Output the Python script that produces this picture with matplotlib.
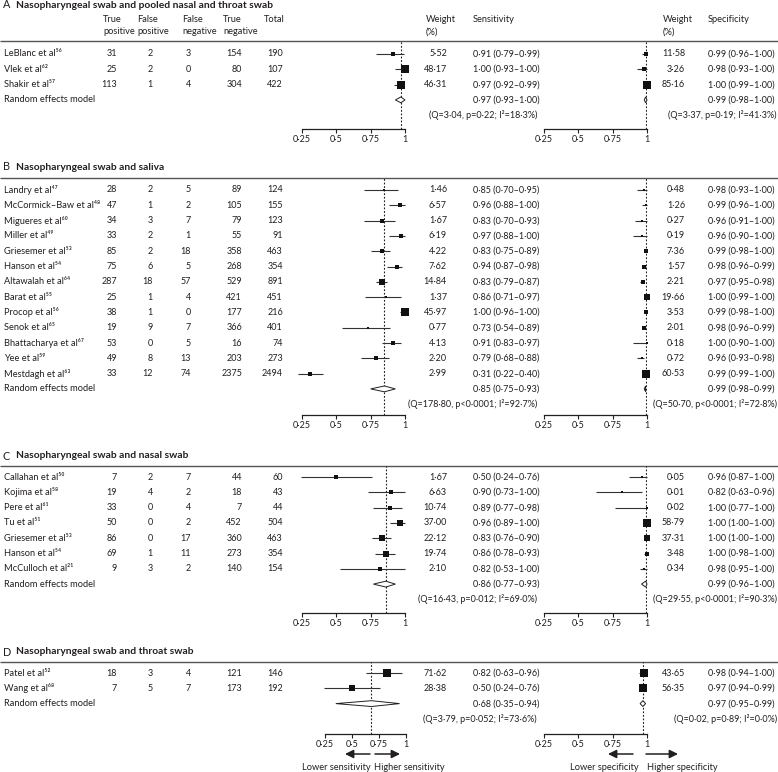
import matplotlib
matplotlib.use("Agg")
import matplotlib.pyplot as plt

plt.rcParams["font.family"] = ["Lato", "DejaVu Sans"]

W, H = 778, 772
ROW = 15.3
INK = "#231f20"
FS = 6.5       # numbers
FS_LAB = 6.7   # words

# ── data ────────────────────────────────────────────────────────────────
names_a = ["LeBlanc et al⁵⁶", "Vlek et al⁶²", "Shakir et al⁵⁷"]
tp_a = [31, 25, 113]
fp_a = [2, 2, 1]
fn_a = [3, 0, 4]
tn_a = [154, 80, 304]
tot_a = [190, 107, 422]
sw_a = [5.52, 48.17, 46.31]
sens_a = [0.91, 1.00, 0.97]
slo_a = [0.79, 0.93, 0.92]
shi_a = [0.99, 1.00, 0.99]
cw_a = [11.58, 3.26, 85.16]
spec_a = [0.99, 0.98, 1.00]
clo_a = [0.96, 0.93, 0.99]
chi_a = [1.00, 1.00, 1.00]
pool_sens_a = [0.97, 0.93, 1.00]
pool_spec_a = [0.99, 0.98, 1.00]
het_sens_a = ["3·04", "=0·22", "18·3"]
het_spec_a = ["3·37", "=0·19", "41·3"]

names_b = ["Landry et al⁴⁷", "McCormick–Baw et al⁴⁸", "Migueres et al⁶⁰", "Miller et al⁴⁹",
           "Griesemer et al⁵³", "Hanson et al⁵⁴", "Altawalah et al⁶⁴", "Barat et al⁵⁵",
           "Procop et al⁵⁶", "Senok et al⁶⁵", "Bhattacharya et al⁶⁷", "Yee et al⁵⁹",
           "Mestdagh et al⁶³"]
tp_b = [28, 47, 34, 33, 85, 75, 287, 25, 38, 19, 53, 49, 33]
fp_b = [2, 1, 3, 2, 2, 6, 18, 1, 1, 9, 0, 8, 12]
fn_b = [5, 2, 7, 1, 18, 5, 57, 4, 0, 7, 5, 13, 74]
tn_b = [89, 105, 79, 55, 358, 268, 529, 421, 177, 366, 16, 203, 2375]
tot_b = [124, 155, 123, 91, 463, 354, 891, 451, 216, 401, 74, 273, 2494]
sw_b = [1.46, 6.57, 1.67, 6.19, 4.22, 7.62, 14.84, 1.37, 45.97, 0.77, 4.13, 2.20, 2.99]
sens_b = [0.85, 0.96, 0.83, 0.97, 0.83, 0.94, 0.83, 0.86, 1.00, 0.73, 0.91, 0.79, 0.31]
slo_b = [0.70, 0.88, 0.70, 0.88, 0.75, 0.87, 0.79, 0.71, 0.96, 0.54, 0.83, 0.68, 0.22]
shi_b = [0.95, 1.00, 0.93, 1.00, 0.89, 0.98, 0.87, 0.97, 1.00, 0.89, 0.97, 0.88, 0.40]
cw_b = [0.48, 1.26, 0.27, 0.19, 7.36, 1.57, 2.21, 19.66, 3.53, 2.01, 0.18, 0.72, 60.53]
spec_b = [0.98, 0.99, 0.96, 0.96, 0.99, 0.98, 0.97, 1.00, 0.99, 0.98, 1.00, 0.96, 0.99]
clo_b = [0.93, 0.96, 0.91, 0.90, 0.98, 0.96, 0.95, 0.99, 0.98, 0.96, 0.90, 0.93, 0.99]
chi_b = [1.00, 1.00, 1.00, 1.00, 1.00, 0.99, 0.98, 1.00, 1.00, 0.99, 1.00, 0.98, 1.00]
pool_sens_b = [0.85, 0.75, 0.93]
pool_spec_b = [0.99, 0.98, 0.99]
het_sens_b = ["178·80", "<0·0001", "92·7"]
het_spec_b = ["50·70", "<0·0001", "72·8"]

names_c = ["Callahan et al⁵⁰", "Kojima et al⁵⁸", "Pere et al⁶¹", "Tu et al⁵¹",
           "Griesemer et al⁵³", "Hanson et al⁵⁴", "McCulloch et al²¹"]
tp_c = [7, 19, 33, 50, 86, 69, 9]
fp_c = [2, 4, 0, 0, 0, 1, 3]
fn_c = [7, 2, 4, 2, 17, 11, 2]
tn_c = [44, 18, 7, 452, 360, 273, 140]
tot_c = [60, 43, 44, 504, 463, 354, 154]
sw_c = [1.67, 6.63, 10.74, 37.00, 22.12, 19.74, 2.10]
sens_c = [0.50, 0.90, 0.89, 0.96, 0.83, 0.86, 0.82]
slo_c = [0.24, 0.73, 0.77, 0.89, 0.76, 0.78, 0.53]
shi_c = [0.76, 1.00, 0.98, 1.00, 0.90, 0.93, 1.00]
cw_c = [0.05, 0.01, 0.02, 58.79, 37.31, 3.48, 0.34]
spec_c = [0.96, 0.82, 1.00, 1.00, 1.00, 1.00, 0.98]
clo_c = [0.87, 0.63, 0.77, 1.00, 1.00, 0.98, 0.95]
chi_c = [1.00, 0.96, 1.00, 1.00, 1.00, 1.00, 1.00]
pool_sens_c = [0.86, 0.77, 0.93]
pool_spec_c = [0.99, 0.96, 1.00]
het_sens_c = ["16·43", "=0·012", "69·0"]
het_spec_c = ["29·55", "<0·0001", "90·3"]

names_d = ["Patel et al⁵²", "Wang et al⁶⁸"]
tp_d = [18, 7]
fp_d = [3, 5]
fn_d = [4, 7]
tn_d = [121, 173]
tot_d = [146, 192]
sw_d = [71.62, 28.38]
sens_d = [0.82, 0.50]
slo_d = [0.63, 0.24]
shi_d = [0.96, 0.76]
cw_d = [43.65, 56.35]
spec_d = [0.98, 0.97]
clo_d = [0.94, 0.94]
chi_d = [1.00, 0.99]
pool_sens_d = [0.68, 0.35, 0.94]
pool_spec_d = [0.97, 0.95, 0.99]
het_sens_d = ["3·79", "=0·052", "73·6"]
het_spec_d = ["0·02", "=0·89", "0·0"]

letters = ["A", "B", "C", "D"]
titles = ["Nasopharyngeal swab and pooled nasal and throat swab",
          "Nasopharyngeal swab and saliva",
          "Nasopharyngeal swab and nasal swab",
          "Nasopharyngeal swab and throat swab"]
ticks = [0.25, 0.5, 0.75, 1.0]
tick_labels = ["0·25", "0·5", "0·75", "1"]

panels = [
    dict(names=names_a, counts=[tp_a, fp_a, fn_a, tn_a, tot_a],
         sens=(sw_a, sens_a, slo_a, shi_a, pool_sens_a, het_sens_a),
         spec=(cw_a, spec_a, clo_a, chi_a, pool_spec_a, het_spec_a)),
    dict(names=names_b, counts=[tp_b, fp_b, fn_b, tn_b, tot_b],
         sens=(sw_b, sens_b, slo_b, shi_b, pool_sens_b, het_sens_b),
         spec=(cw_b, spec_b, clo_b, chi_b, pool_spec_b, het_spec_b)),
    dict(names=names_c, counts=[tp_c, fp_c, fn_c, tn_c, tot_c],
         sens=(sw_c, sens_c, slo_c, shi_c, pool_sens_c, het_sens_c),
         spec=(cw_c, spec_c, clo_c, chi_c, pool_spec_c, het_spec_c)),
    dict(names=names_d, counts=[tp_d, fp_d, fn_d, tn_d, tot_d],
         sens=(sw_d, sens_d, slo_d, shi_d, pool_sens_d, het_sens_d),
         spec=(cw_d, spec_d, clo_d, chi_d, pool_spec_d, het_spec_d)),
]

# ── layout (pixels) ─────────────────────────────────────────────────────
title_y = [5, 167, 456, 652]
rule_y = [41, 178, 466, 662]
first_row_y = [54, 190, 477, 673]
axis_y = [129, 415, 613, 734]
sens_x = [(302, 405), (302, 405), (302, 405), (325, 406)]
spec_x = (544, 647)
count_right = [117, 153, 191, 242, 283]


def f2(v, nd=2):
    return f"{v:.{nd}f}".replace(".", "·")


def est_text(e, lo, hi):
    return f"{f2(e)} ({f2(lo)}–{f2(hi)})"


fig = plt.figure(figsize=(W / 100, H / 100), dpi=100)
bg = fig.add_axes([0, 0, 1, 1])
bg.set_xlim(0, W)
bg.set_ylim(H, 0)
bg.axis("off")


def txt(x, y, s, ha="left", **kw):
    kw.setdefault("fontsize", FS)
    kw.setdefault("color", INK)
    bg.text(x, y, s, ha=ha, va="center", **kw)


# column headers (panel A only)
for x, l1, l2 in [(103, "True", "positive"), (137, "False", "positive"),
                  (182, "False", "negative"), (223, "True", "negative"),
                  (264, "Total", ""), (426, "Weight", "(%)"), (473, "Sensitivity", ""),
                  (663, "Weight", "(%)"), (708, "Specificity", "")]:
    txt(x, 20, l1, fontsize=FS_LAB)
    if l2:
        txt(x, 32, l2, fontsize=FS_LAB)


def forest(xpx, ytop, ybot, y0, w, est, lo, hi, pooled):
    ax = fig.add_axes([xpx[0] / W, 1 - ybot / H, (xpx[1] - xpx[0]) / W, (ybot - ytop) / H])
    ax.set_xlim(0.25, 1.0)
    ax.set_ylim((ybot - y0) / ROW, (ytop - y0) / ROW)
    ax.patch.set_alpha(0)
    for s in ["top", "left", "right"]:
        ax.spines[s].set_visible(False)
    ax.spines["bottom"].set_color(INK)
    ax.spines["bottom"].set_linewidth(0.9)
    ax.set_yticks([])
    ax.set_xticks(ticks)
    ax.set_xticklabels(tick_labels, fontsize=FS, color=INK)
    ax.tick_params(axis="x", direction="out", length=3, width=0.8, pad=1.5, colors=INK)
    ax.axvline(pooled[0], color=INK, lw=0.8, ls=(0, (1.6, 1.6)))
    n = len(est)
    rows = list(range(n))
    ax.hlines(rows, lo, hi, color="#333333", lw=0.8, clip_on=False)
    for r, e, wt in zip(rows, est, w):
        side = min(2.0 + 0.8 * wt ** 0.5, 8.0)
        ax.plot(e, r, "s", ms=side * 0.72, color="#111111", mew=0, clip_on=False)
    r = n
    ax.fill([pooled[1], pooled[0], pooled[2], pooled[0]],
            [r, r - 0.19, r, r + 0.19], facecolor="white", edgecolor=INK, lw=0.7,
            clip_on=False, zorder=3)
    return ax


for k, p in enumerate(panels):
    # title and rule
    txt(3, title_y[k], letters[k], fontsize=7.8)
    txt(16, title_y[k], titles[k], fontweight="bold", fontsize=7.4)
    bg.hlines(rule_y[k], 0, W, color="#555555", lw=1.0)

    names = p["names"]
    n = len(names)
    ys = [first_row_y[k] + i * ROW for i in range(n + 2)]
    for i, name in enumerate(names):
        txt(4, ys[i], name, fontsize=FS_LAB)
        for xr, col in zip(count_right, p["counts"]):
            txt(xr, ys[i], str(col[i]), ha="right")
    txt(4, ys[n], "Random effects model", fontsize=FS_LAB)

    for (xw, xe, xq), block, xpx in [((447, 473, 537), p["sens"], sens_x[k]),
                                      ((685, 708, 777), p["spec"], spec_x)]:
        w, est, lo, hi, pooled, het = block
        for i in range(n):
            txt(xw, ys[i], f2(w[i]), ha="right")
            txt(xe, ys[i], est_text(est[i], lo[i], hi[i]))
        txt(xe, ys[n], est_text(*pooled))
        txt(xq, ys[n + 1], f"(Q={het[0]}, p{het[1]}; I²={het[2]}%)", ha="right")
        forest(xpx, rule_y[k], axis_y[k], first_row_y[k], w, est, lo, hi, pooled)

# direction arrows under panel D
arrow_y, label_y = 754, 767
for x0, x1 in [(370, 345), (375, 400), (633, 608), (646, 678)]:
    bg.annotate("", xy=(x1, arrow_y), xytext=(x0, arrow_y),
                arrowprops=dict(arrowstyle="-|>,head_length=0.5,head_width=0.25",
                                color=INK, lw=1.1, shrinkA=0, shrinkB=0))
txt(371, label_y, "Lower sensitivity", ha="right", fontsize=FS_LAB)
txt(374, label_y, "Higher sensitivity", fontsize=FS_LAB)
txt(639, label_y, "Lower specificity", ha="right", fontsize=FS_LAB)
txt(647, label_y, "Higher specificity", fontsize=FS_LAB)

fig.savefig("out.png", dpi=100)
